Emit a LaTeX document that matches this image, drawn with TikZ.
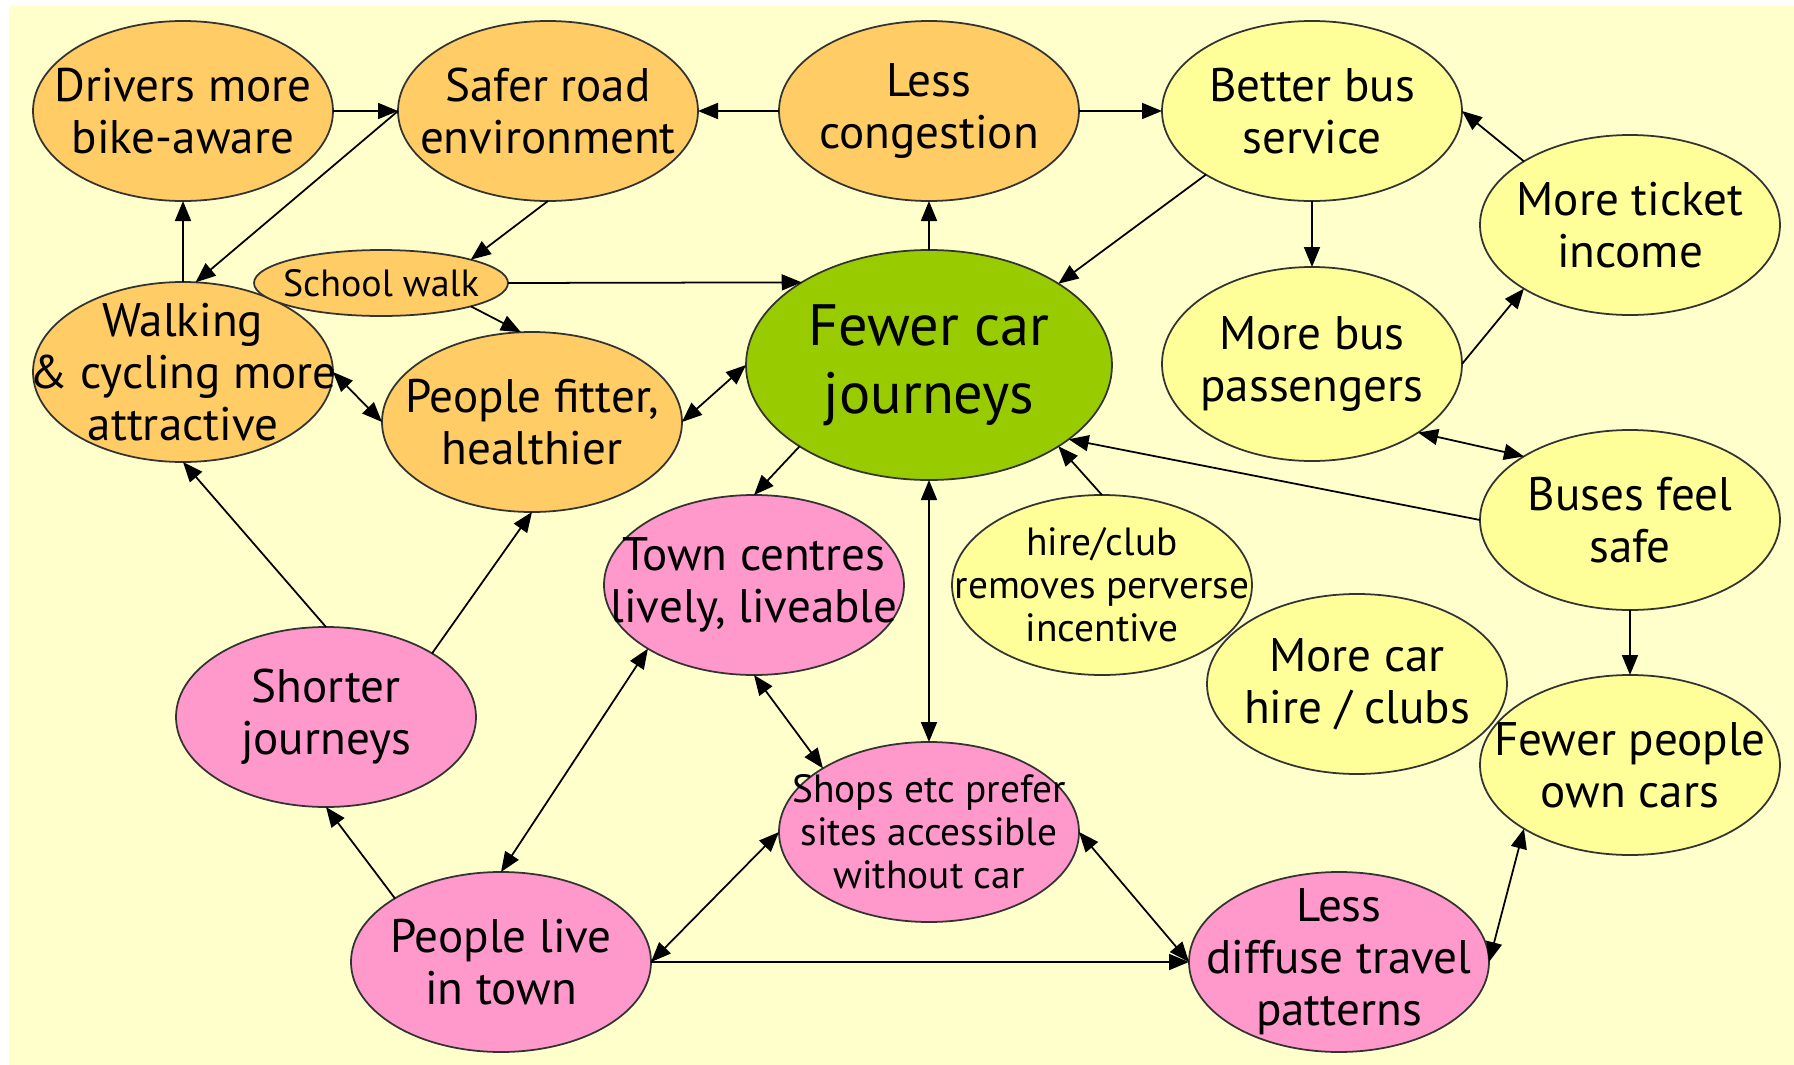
\documentclass[tikz,border=0pt]{standalone}
\usepackage{fontspec}
\setmainfont{PT Sans}
\usepackage{tikz}
\usepackage{xcolor}
\usetikzlibrary{arrows.meta, positioning, shapes.geometric}

\definecolor{paper}{HTML}{FFFFCC}
\definecolor{roadorange}{HTML}{FFCC66}
\definecolor{busyellow}{HTML}{FFFF99}
\definecolor{cargreen}{HTML}{99CC00}
\definecolor{townpink}{HTML}{FF99CC}

\begin{document}
\begin{tikzpicture}[
    >={Triangle[length=2mm, width=1.6mm]},
    bubble/.style={draw=black!80, line width=0.5pt, ellipse, inner sep=-1cm, outer sep=0pt, minimum width=3cm, minimum height=1.8cm, align=center, font=\fontsize{13.4}{14.8}\selectfont},
    road/.style={bubble, fill=roadorange},
    bus/.style={bubble, fill=busyellow},
    town/.style={bubble, fill=townpink},
    goal/.style={bubble, fill=cargreen, minimum width=3.66cm, minimum height=2.3cm, font=\fontsize{16.6}{19.3}\selectfont},
    small/.style={font=\fontsize{11.2}{12.2}\selectfont},
    link/.style={line width=0.5pt, black}
]

\useasboundingbox (0,0) rectangle (17.94,-10.65);
\fill[paper] (0.09,-0.06) rectangle (17.94,-10.65);

% Top row
\node[road] (drivers) at (1.83,-1.11) {Drivers more\\bike-aware};
\node[road, right=0.65cm of drivers] (safer) {Safer road\\environment};
\node[road, right=0.81cm of safer] (congestion) {Less\\congestion};
\node[bus, right=0.83cm of congestion] (busservice) {Better bus\\service};

% Centre
\node[goal] (fewer) at (9.29,-3.65) {Fewer car\\journeys};

% Walking and cycling
\node[road, below=0.81cm of drivers] (walking) {Walking\\\& cycling more\\attractive};
\node[road, minimum width=2.54cm, minimum height=0.66cm, font=\fontsize{10.8}{11}\selectfont] (school) at (3.81,-2.83) {School walk};
\node[road] (fitter) at (5.32,-4.22) {People fitter,\\healthier};

% Buses
\node[bus, minimum height=1.94cm, below=0.66cm of busservice] (passengers) {More bus\\passengers};
\node[bus] (ticket) at (16.30,-2.25) {More ticket\\income};
\node[bus] (safe) at (16.30,-5.20) {Buses feel\\safe};
\node[bus, below=0.65cm of safe] (owners) {Fewer people\\own cars};

% Town and car hire
\node[town] (centres) at (7.54,-5.85) {Town centres\\lively, liveable};
\node[bus, small, right=0.48cm of centres] (hire) {hire/club\\removes perverse\\incentive};
\node[bus] (carhire) at (13.57,-6.84) {More car\\hire / clubs};
\node[town] (shorter) at (3.26,-7.17) {Shorter\\journeys};
\node[town, small, below=2.62cm of fewer] (shops) {Shops etc prefer\\sites accessible\\without car};
\node[town] (live) at (5.01,-9.62) {People live\\in town};
\node[town, right=5.38cm of live] (diffuse) {Less\\diffuse travel\\patterns};

% Top row links
\draw[->, link] (drivers) -- (safer);
\draw[->, link] (congestion) -- (safer);
\draw[->, link] (congestion) -- (busservice);
\draw[->, link] (fewer) -- (congestion);

% Walking side links
\draw[->, link] (walking) -- (drivers);
\draw[->, link] (safer.west) -- (walking.82);
\draw[->, link] (safer.south) -- (school.north east);
\draw[->, link] (school.east) -- (fewer.147);
\draw[->, link] (school.south east) -- (fitter.97);
\draw[<->, link] (walking.east) -- (fitter.west);
\draw[<->, link] (fitter.east) -- (fewer.west);
\draw[->, link] (shorter.north) -- (walking.south);
\draw[->, link] (shorter.north east) -- (fitter.south);

% Bus side links
\draw[->, link] (busservice.south west) -- (fewer.north east);
\draw[->, link] (busservice) -- (passengers);
\draw[->, link] (passengers.east) -- (ticket.south west);
\draw[->, link] (ticket.north west) -- (busservice.east);
\draw[<->, link] (passengers.south east) -- (safe.north west);
\draw[->, link] (safe.west) -- (fewer.-28);
\draw[->, link] (hire.north) -- (fewer.south east);
\draw[->, link] (safe) -- (owners);

% Town side links
\draw[->, link] (fewer.south west) -- (centres.north);
\draw[<->, link] (fewer) -- (shops);
\draw[<->, link] (centres.south) -- (shops.north west);
\draw[<->, link] (live.north) -- (centres.south west);
\draw[<->, link] (live.east) -- (shops.west);
\draw[->, link] (live.east) -- (diffuse.west);
\draw[<->, link] (shops.east) -- (diffuse.west);
\draw[<->, link] (diffuse.east) -- (owners.south west);
\draw[->, link] (live.north west) -- (shorter.south);

\end{tikzpicture}
\end{document}
